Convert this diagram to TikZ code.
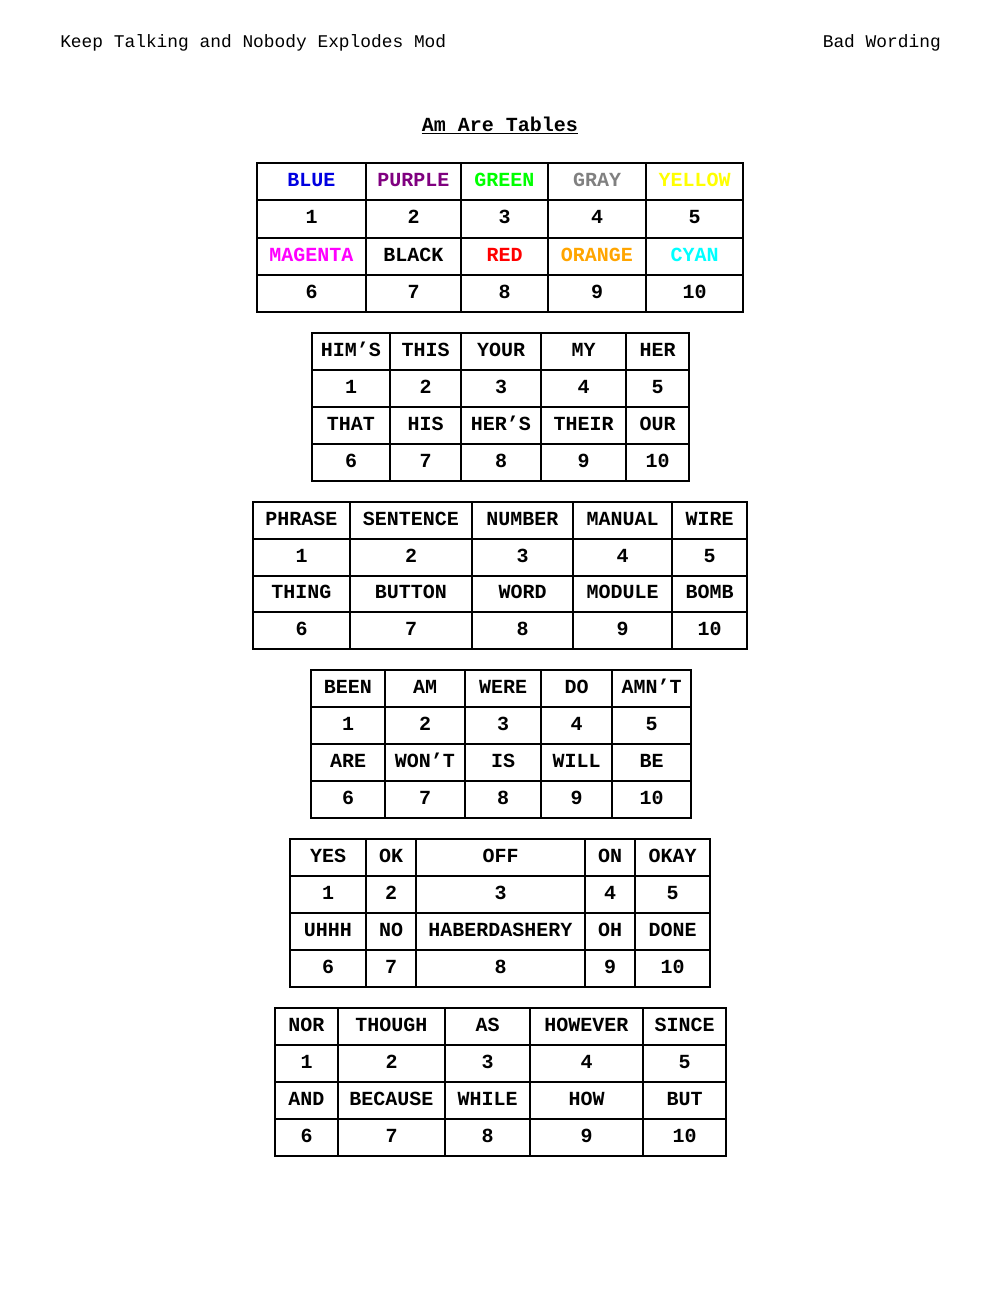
\documentclass[tikz,border=0pt]{standalone}
\usepackage{fontspec}
\setmainfont{Liberation Mono}
\definecolor{wordblue}{RGB}{0,0,225}
\definecolor{wordpurple}{RGB}{128,0,128}
\definecolor{wordgreen}{RGB}{0,255,0}
\definecolor{wordgray}{RGB}{128,128,128}
\definecolor{wordyellow}{RGB}{255,255,0}
\definecolor{wordmagenta}{RGB}{255,0,255}
\definecolor{wordred}{RGB}{255,0,0}
\definecolor{wordorange}{RGB}{255,165,0}
\definecolor{wordcyan}{RGB}{0,255,255}
\begin{document}
\begin{tikzpicture}[x=0.75pt,y=-0.75pt,
		grid line/.style={line width=1.5pt},
		cell/.style={anchor=base,inner sep=0pt,font=\fontsize{15}{18}\selectfont\bfseries},
		header/.style={inner sep=0pt,font=\fontsize{13.4}{16}\selectfont}]
	\useasboundingbox[fill=white] (0,0) rectangle (1000,1300);

	\node[header,anchor=base west] (modname) at (60,47) {Keep Talking and Nobody Explodes Mod};
	\node[header,anchor=base east] (module) at (941,47) {Bad Wording};
	\node[cell] (title) at (500,131) {Am Are Tables};
	\draw[line width=1pt] ([yshift=-2pt]title.base west) -- ([yshift=-2pt]title.base east);

	\begin{scope}[shift={(0,163)}]
		\draw[grid line] (257,0) rectangle (743,149);
		\foreach \y in {37,75,112} \draw[grid line] (257,\y) -- (743,\y);
		\foreach \x in {366,461,548,646} \draw[grid line] (\x,0) -- (\x,149);
		\foreach \x/\u/\cu/\l/\cl [count=\i] in {311.5/BLUE/wordblue/MAGENTA/wordmagenta, 413.5/PURPLE/wordpurple/BLACK/black, 504.5/GREEN/wordgreen/RED/wordred, 597/GRAY/wordgray/ORANGE/wordorange, 694.5/YELLOW/wordyellow/CYAN/wordcyan}{
			\pgfmathtruncatemacro\j{\i+5}
			\node[cell,text=\cu] (colour-\i) at (\x,23) {\u};
			\node[cell] (colour-n\i) at (\x,60) {\i};
			\node[cell,text=\cl] (colour-\j) at (\x,98) {\l};
			\node[cell] (colour-n\j) at (\x,135) {\j};
		}
	\end{scope}

	\begin{scope}[shift={(0,333)}]
		\draw[grid line] (312,0) rectangle (689,148);
		\foreach \y in {37,74,111} \draw[grid line] (312,\y) -- (689,\y);
		\foreach \x in {390,461,541,626} \draw[grid line] (\x,0) -- (\x,148);
		\foreach \x/\u/\l [count=\i] in {351/HIM’S/THAT, 425.5/THIS/HIS, 501/YOUR/HER’S, 583.5/MY/THEIR, 657.5/HER/OUR}{
			\pgfmathtruncatemacro\j{\i+5}
			\node[cell] (pron-\i) at (\x,23) {\u};
			\node[cell] (pron-n\i) at (\x,60) {\i};
			\node[cell] (pron-\j) at (\x,97) {\l};
			\node[cell] (pron-n\j) at (\x,134) {\j};
		}
	\end{scope}

	\begin{scope}[shift={(0,502)}]
		\draw[grid line] (253,0) rectangle (747,147);
		\foreach \y in {37,74,110} \draw[grid line] (253,\y) -- (747,\y);
		\foreach \x in {350,472,573,672} \draw[grid line] (\x,0) -- (\x,147);
		\foreach \x/\u/\l [count=\i] in {301.5/PHRASE/THING, 411/SENTENCE/BUTTON, 522.5/NUMBER/WORD, 622.5/MANUAL/MODULE, 709.5/WIRE/BOMB}{
			\pgfmathtruncatemacro\j{\i+5}
			\node[cell] (noun-\i) at (\x,23) {\u};
			\node[cell] (noun-n\i) at (\x,60) {\i};
			\node[cell] (noun-\j) at (\x,96) {\l};
			\node[cell] (noun-n\j) at (\x,133) {\j};
		}
	\end{scope}

	\begin{scope}[shift={(0,670)}]
		\draw[grid line] (311,0) rectangle (691,148);
		\foreach \y in {37,74,111} \draw[grid line] (311,\y) -- (691,\y);
		\foreach \x in {385,465,541,612} \draw[grid line] (\x,0) -- (\x,148);
		\foreach \x/\u/\l [count=\i] in {348/BEEN/ARE, 425/AM/WON’T, 503/WERE/IS, 576.5/DO/WILL, 651.5/AMN’T/BE}{
			\pgfmathtruncatemacro\j{\i+5}
			\node[cell] (verb-\i) at (\x,23) {\u};
			\node[cell] (verb-n\i) at (\x,60) {\i};
			\node[cell] (verb-\j) at (\x,97) {\l};
			\node[cell] (verb-n\j) at (\x,134) {\j};
		}
	\end{scope}

	\begin{scope}[shift={(0,839)}]
		\draw[grid line] (290,0) rectangle (710,148);
		\foreach \y in {37,74,111} \draw[grid line] (290,\y) -- (710,\y);
		\foreach \x in {366,416,585,635} \draw[grid line] (\x,0) -- (\x,148);
		\foreach \x/\u/\l [count=\i] in {328/YES/UHHH, 391/OK/NO, 500.5/OFF/HABERDASHERY, 610/ON/OH, 672.5/OKAY/DONE}{
			\pgfmathtruncatemacro\j{\i+5}
			\node[cell] (reply-\i) at (\x,23) {\u};
			\node[cell] (reply-n\i) at (\x,60) {\i};
			\node[cell] (reply-\j) at (\x,97) {\l};
			\node[cell] (reply-n\j) at (\x,134) {\j};
		}
	\end{scope}

	\begin{scope}[shift={(0,1008)}]
		\draw[grid line] (275,0) rectangle (726,148);
		\foreach \y in {37,74,111} \draw[grid line] (275,\y) -- (726,\y);
		\foreach \x in {338,445,530,643} \draw[grid line] (\x,0) -- (\x,148);
		\foreach \x/\u/\l [count=\i] in {306.5/NOR/AND, 391.5/THOUGH/BECAUSE, 487.5/AS/WHILE, 586.5/HOWEVER/HOW, 684.5/SINCE/BUT}{
			\pgfmathtruncatemacro\j{\i+5}
			\node[cell] (conj-\i) at (\x,23) {\u};
			\node[cell] (conj-n\i) at (\x,60) {\i};
			\node[cell] (conj-\j) at (\x,97) {\l};
			\node[cell] (conj-n\j) at (\x,134) {\j};
		}
	\end{scope}
\end{tikzpicture}
\end{document}
